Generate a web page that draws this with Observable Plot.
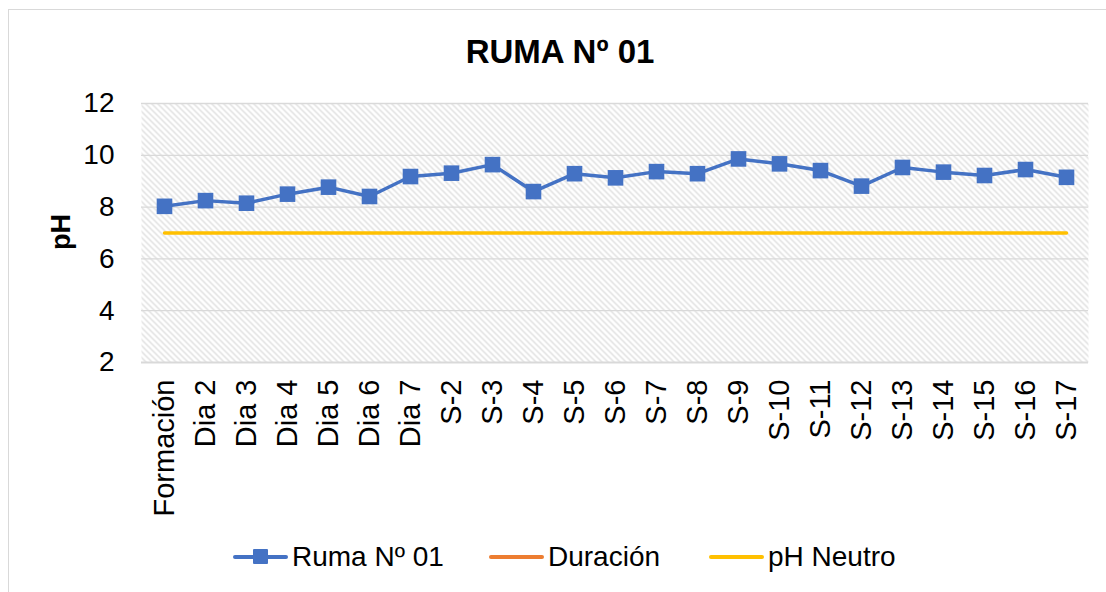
<!DOCTYPE html>
<html>
<head>
<meta charset="utf-8">
<script src="https://cdn.jsdelivr.net/npm/d3@7"></script>
<script src="https://cdn.jsdelivr.net/npm/@observablehq/plot@0.6"></script>
<style>
  html, body { margin: 0; padding: 0; background: #fff; overflow: hidden; }
  #wrap { position: relative; width: 1106px; height: 592px; overflow: hidden; font-family: "Liberation Sans", Arial, sans-serif; color: #000; }
  #frame { position: absolute; left: 8px; top: 9px; width: 1300px; height: 800px; border-left: 1.5px solid #d9d9d9; border-top: 1.5px solid #d9d9d9; box-sizing: border-box; }
  #title { position: absolute; left: 0; width: 1120px; top: 35px; text-align: center; font-weight: bold; font-size: 33px; line-height: 33px; }
  #ylabel { position: absolute; left: 61px; top: 232px; transform: translate(-50%, -50%) rotate(-90deg); font-weight: bold; font-size: 27px; line-height: 27px; white-space: nowrap; }
  #chart { position: absolute; left: 0; top: 0; }
  .leg { position: absolute; top: 541px; height: 32px; display: flex; align-items: center; font-size: 28px; white-space: nowrap; }
  .sw { position: relative; width: 55px; height: 4px; border-radius: 2px; margin-right: 4px; }
  .sq { position: absolute; left: 20px; top: -6px; width: 15px; height: 15px; background: #4472C4; border-radius: 1px; }
</style>
</head>
<body>
<div id="wrap">
  <div id="frame"></div>
  <div id="chart"></div>
  <div id="title">RUMA Nº 01</div>
  <div id="ylabel">pH</div>
  <div id="legend"></div>
</div>
<script>
const categories = ["Formación","Dia 2","Dia 3","Dia 4","Dia 5","Dia 6","Dia 7","S-2","S-3","S-4","S-5","S-6","S-7","S-8","S-9","S-10","S-11","S-12","S-13","S-14","S-15","S-16","S-17"];
const rumaValues = [8.03, 8.25, 8.15, 8.50, 8.77, 8.41, 9.18, 9.31, 9.64, 8.60, 9.29, 9.13, 9.37, 9.29, 9.86, 9.67, 9.41, 8.81, 9.53, 9.35, 9.22, 9.45, 9.15];
const phNeutroValues = [7, 7, 7, 7, 7, 7, 7, 7, 7, 7, 7, 7, 7, 7, 7, 7, 7, 7, 7, 7, 7, 7, 7];
const yTicks = [2, 4, 6, 8, 10, 12];
const seriesNames = ["Ruma Nº 01", "Duración", "pH Neutro"];
const seriesColors = ["#4472C4", "#ED7D31", "#FFC000"];

const ruma = categories.map((c, i) => ({cat: c, v: rumaValues[i]}));
const neutro = categories.map((c, i) => ({cat: c, v: phNeutroValues[i]}));

const plot = Plot.plot({
  width: 1106,
  height: 530,
  marginTop: 103,
  marginLeft: 141,
  marginRight: 18,
  marginBottom: 168,
  style: {fontFamily: "Liberation Sans, Arial, sans-serif", background: "transparent", color: "#000"},
  x: {type: "point", domain: categories, padding: 0.5},
  y: {domain: [2, 12], ticks: yTicks},
  marks: [
    Plot.frame({fill: "url(#hatch)", stroke: null}),
    Plot.gridY(yTicks.filter(t => t > 2), {stroke: "#d9d9d9", strokeOpacity: 1, strokeWidth: 1.3}),
    Plot.ruleY([2], {stroke: "#d9d9d9", strokeWidth: 2}),
    Plot.axisY({ticks: yTicks, tickSize: 0, tickPadding: 27, fontSize: 28, label: null, tickFormat: d => String(d)}),
    Plot.axisX({tickSize: 0, tickPadding: 17, tickRotate: -90, fontSize: 29, label: null}),
    Plot.line(neutro, {x: "cat", y: "v", stroke: seriesColors[2], strokeWidth: 3.5, strokeLinecap: "round"}),
    Plot.line(ruma, {x: "cat", y: "v", stroke: seriesColors[0], strokeWidth: 3.5, strokeLinejoin: "round"}),
    Plot.dot(ruma, {x: "cat", y: "v", symbol: "square", r: 8.8, fill: seriesColors[0], stroke: null})
  ]
});

// hatch pattern definition
const svg = d3.select(plot);
const defs = svg.insert("defs", ":first-child");
const pat = defs.append("pattern")
  .attr("id", "hatch").attr("patternUnits", "userSpaceOnUse")
  .attr("width", 6).attr("height", 6);
pat.append("rect").attr("width", 6).attr("height", 6).attr("fill", "#ffffff");
pat.append("path").attr("d", "M-1,-1 L7,7 M-1,5 L1,7 M5,-1 L7,1")
  .attr("stroke", "#dcdcdc").attr("stroke-width", 1.3);

document.getElementById("chart").appendChild(plot);

// legend
const legendLeft = [233, 489, 709];
const legend = document.getElementById("legend");
seriesNames.forEach((name, i) => {
  const item = document.createElement("div");
  item.className = "leg";
  item.style.left = legendLeft[i] + "px";
  const sw = document.createElement("div");
  sw.className = "sw";
  sw.style.background = seriesColors[i];
  if (i === 0) {
    const sq = document.createElement("div");
    sq.className = "sq";
    sw.appendChild(sq);
  }
  item.appendChild(sw);
  const t = document.createElement("span");
  t.textContent = name;
  item.appendChild(t);
  legend.appendChild(item);
});
</script>
</body>
</html>
